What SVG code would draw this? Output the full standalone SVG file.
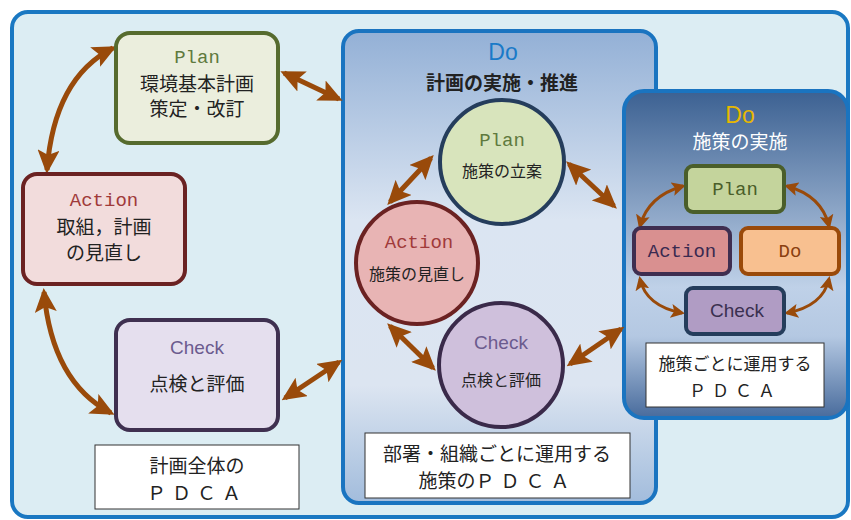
<svg xmlns="http://www.w3.org/2000/svg" width="851" height="520" viewBox="0 0 851 520">
<defs>
<linearGradient id="gMid" x1="0" y1="0" x2="0" y2="1">
<stop offset="0" stop-color="#93b0d6"/>
<stop offset="0.4" stop-color="#dbe5f2"/>
<stop offset="0.75" stop-color="#dce5f1"/>
<stop offset="1" stop-color="#a2bcdc"/>
</linearGradient>
<linearGradient id="gRight" x1="0" y1="0" x2="0" y2="1">
<stop offset="0" stop-color="#3c6192"/>
<stop offset="0.6" stop-color="#bfd1e8"/>
<stop offset="0.75" stop-color="#b4c8e2"/>
<stop offset="1" stop-color="#486b9c"/>
</linearGradient>
<marker id="ah" viewBox="0 0 24 22" markerWidth="24" markerHeight="22" refX="20" refY="11" orient="auto-start-reverse" markerUnits="userSpaceOnUse">
<path d="M0,0 L24,11 L0,22 L5,11 z" fill="#994a0a"/>
</marker>
<marker id="ahs" viewBox="0 0 14 14" markerWidth="14" markerHeight="14" refX="11" refY="7" orient="auto-start-reverse" markerUnits="userSpaceOnUse">
<path d="M0,0 L14,7 L0,14 L3,7 z" fill="#994a0a"/>
</marker>
<style>
.jp{font-family:"Noto Sans CJK JP","Noto Sans",sans-serif;text-anchor:middle;fill:#222}
.mono{font-family:"Liberation Mono","DejaVu Sans Mono",monospace;text-anchor:middle}
.sans{font-family:"Liberation Sans","DejaVu Sans",sans-serif;text-anchor:middle}
.arr{fill:none;stroke:#994a0a;stroke-width:5;marker-start:url(#ah);marker-end:url(#ah)}
.arrs{fill:none;stroke:#994a0a;stroke-width:3;marker-start:url(#ahs);marker-end:url(#ahs)}
.lbl{fill:#fff;stroke:#333;stroke-width:1}
</style>
</defs>
<rect x="0" y="0" width="851" height="520" fill="#fff"/>
<rect id="outer" x="12" y="12" width="836" height="505" rx="16" fill="#dcedf3" stroke="#1a78c2" stroke-width="4"/>

<g id="mid-panel">
<rect x="343" y="31" width="313" height="472" rx="16" fill="url(#gMid)" stroke="#1a74c0" stroke-width="4"/>
<text class="sans" x="503" y="60" font-size="23" fill="#1a7ac8" font-weight="300">Do</text>
<text class="jp" x="502" y="90" font-size="19" font-weight="bold">計画の実施・推進</text>
</g>

<g id="right-panel">
<rect x="624" y="91" width="224" height="327" rx="20" fill="url(#gRight)" stroke="#1a74c0" stroke-width="4"/>
<text class="sans" x="740" y="123" font-size="23" fill="#e8b800">Do</text>
<text class="jp" x="740" y="149" font-size="19" style="fill:#fff">施策の実施</text>
</g>

<g id="connectors">
<path class="arr" d="M47,170 Q54,78 113,48"/>
<path class="arr" d="M44,292 Q52,382 111,413"/>
<path class="arr" d="M284,73 L339,99"/>
<path class="arr" d="M285,398 L339,362"/>
<path class="arr" d="M431,158 L390,202"/>
<path class="arr" d="M569,164 L614,206"/>
<path class="arr" d="M390,326 L433,368"/>
<path class="arr" d="M570,364 L621,329"/>
<path class="arrs" d="M683,186 Q648,196 640,226"/>
<path class="arrs" d="M787,186 Q822,196 829,226"/>
<path class="arrs" d="M640,279 Q646,306 682,313"/>
<path class="arrs" d="M829,279 Q823,306 787,313"/>
</g>

<g id="plan-main">
<rect x="116" y="33" width="162" height="110" rx="14" fill="#ebeedd" stroke="#566b2e" stroke-width="4"/>
<text class="mono" x="197" y="63" font-size="19" fill="#5f7a3e">Plan</text>
<text class="jp" x="197" y="91" font-size="19">環境基本計画</text>
<text class="jp" x="197" y="116" font-size="19">策定・改訂</text>
</g>

<g id="action-main">
<rect x="23" y="174" width="162" height="110" rx="14" fill="#f2dcdc" stroke="#6b2222" stroke-width="4"/>
<text class="mono" x="104" y="206" font-size="19" fill="#a03a3a">Action</text>
<text class="jp" x="104" y="234" font-size="19">取組，計画</text>
<text class="jp" x="104" y="260" font-size="19">の見直し</text>
</g>

<g id="check-main">
<rect x="116" y="320" width="162" height="110" rx="14" fill="#e5dfee" stroke="#3f3050" stroke-width="4"/>
<text class="sans" x="197" y="354" font-size="19" fill="#6b5b8e">Check</text>
<text class="jp" x="197" y="391" font-size="19">点検と評価</text>
</g>

<g id="label-left">
<rect class="lbl" x="95" y="445" width="204" height="64"/>
<text class="jp" x="197" y="473" font-size="19">計画全体の</text>
<text class="jp" x="197" y="500" font-size="19" letter-spacing="6">ＰＤＣＡ</text>
</g>

<g id="plan-circle">
<circle cx="502" cy="162" r="62" fill="#d8e4bc" stroke="#253d5c" stroke-width="4"/>
<text class="mono" x="502" y="146" font-size="19" fill="#5f7a3e">Plan</text>
<text class="jp" x="502" y="177" font-size="16">施策の立案</text>
</g>

<g id="action-circle">
<circle cx="417" cy="263" r="61" fill="#e8b4b4" stroke="#6b2222" stroke-width="4"/>
<text class="mono" x="419" y="248" font-size="19" fill="#a03a3a">Action</text>
<text class="jp" x="417" y="280" font-size="16">施策の見直し</text>
</g>

<g id="check-circle">
<circle cx="501" cy="365" r="62" fill="#cfc0dc" stroke="#3a2a4a" stroke-width="4"/>
<text class="sans" x="501" y="349" font-size="19" fill="#6b5b8e">Check</text>
<text class="jp" x="501" y="386" font-size="16">点検と評価</text>
</g>

<g id="label-mid">
<rect class="lbl" x="365" y="433" width="265" height="65"/>
<text class="jp" x="497" y="461" font-size="19">部署・組織ごとに運用する</text>
<text class="jp" x="497" y="488" font-size="19">施策の<tspan letter-spacing="6">ＰＤＣＡ</tspan></text>
</g>

<g id="plan-small">
<rect x="686" y="166" width="98" height="46" rx="7" fill="#c4d49c" stroke="#4a5e2a" stroke-width="4"/>
<text class="mono" x="735" y="195" font-size="19" fill="#4a5e2a">Plan</text>
</g>

<g id="action-small">
<rect x="634" y="228" width="96" height="46" rx="7" fill="#d99090" stroke="#3f2e50" stroke-width="4"/>
<text class="mono" x="682" y="257" font-size="19" fill="#3a2a50">Action</text>
</g>

<g id="do-small">
<rect x="741" y="228" width="98" height="46" rx="7" fill="#f8c090" stroke="#9a4a0a" stroke-width="4"/>
<text class="mono" x="790" y="257" font-size="19" fill="#8a4010">Do</text>
</g>

<g id="check-small">
<rect x="686" y="288" width="98" height="46" rx="7" fill="#b09cc4" stroke="#253d5c" stroke-width="4"/>
<text class="sans" x="737" y="317" font-size="19" fill="#3a3050">Check</text>
</g>

<g id="label-right">
<rect class="lbl" x="646" y="343" width="178" height="64"/>
<text class="jp" x="735" y="370" font-size="17">施策ごとに運用する</text>
<text class="jp" x="735" y="397" font-size="17" letter-spacing="6">ＰＤＣＡ</text>
</g>
</svg>
